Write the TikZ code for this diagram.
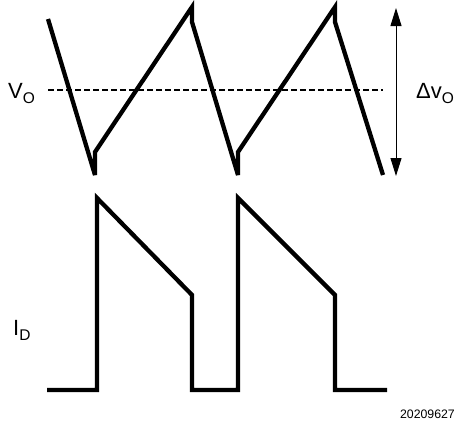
\documentclass[tikz,border=0pt]{standalone}
\usepackage{fontspec}
\setmainfont{Liberation Sans}
\usetikzlibrary{arrows.meta}

\newcommand{\subtxt}[1]{\raisebox{-5pt}{\fontsize{15.5}{15.5}\selectfont #1}}

\tikzset{
    wave/.style={line width=4.3pt, miter limit=4},
    lbl/.style={inner sep=0pt, font=\fontsize{22}{26}\selectfont},
    span/.style={<->, >={Triangle[length=18pt, width=11pt]}, line width=1pt}
}

\begin{document}
\begin{tikzpicture}[x=1pt, y=-1pt]
    \useasboundingbox (0,0) rectangle (460,423);

    \begin{scope}
        \draw[dash pattern=on 6pt off 3pt, line width=1.4pt] (48,90) -- (383,90); % V_O level
        \draw[wave] (48,19) -- (95,175) -- (95,152) -- (192,7) -- (192,22) -- (238,175)
            -- (238,152) -- (335,7) -- (335,22) -- (383,175); % output ripple

        % Ripple span
        \coordinate (rtop) at (396,8);
        \coordinate (rbot) at (396,176);
        \draw[span] (rtop) -- (rbot);

        \node[lbl, anchor=base west] (vo) at (8,98) {V\subtxt{O}};
        \node[lbl, anchor=base west] (dvo) at (416,98) {Δv\subtxt{O}};
    \end{scope}

    \begin{scope}
        \draw[wave] (47,390) -- (97,390) -- (97,198) -- (192,295) -- (192,390) -- (238,390)
            -- (238,198) -- (335,295) -- (335,390) -- (387,390); % diode current

        \node[lbl, anchor=base west] (id) at (13,335) {I\subtxt{D}};
        \node[inner sep=0pt, anchor=base east, font=\fontsize{12.3}{14}\selectfont] (fig) at (455,418) {20209627};
    \end{scope}

\end{tikzpicture}
\end{document}
